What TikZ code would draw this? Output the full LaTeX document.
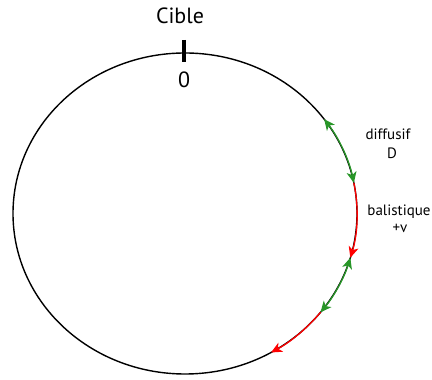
\documentclass[tikz,border=0pt]{standalone}
\usepackage{fontspec}
\setmainfont{PT Sans}
\usetikzlibrary{arrows.meta}
\definecolor{dgreen}{RGB}{40,150,40}
\definecolor{dred}{RGB}{255,0,0}
\tikzset{
  tip/.tip={Stealth[length=11pt,width=10pt,inset=3pt]},
  orbit/.style={line width=1.4pt, black},
  garc/.style={line width=1.3pt, dgreen, tip-tip},
  rarc/.style={line width=1.3pt, dred, -tip},
  lbl/.style={anchor=base, inner sep=0pt, font=\fontsize{15}{17}\selectfont},
  big/.style={anchor=base, inner sep=0pt, font=\fontsize{22}{25}\selectfont}
}
\begin{document}
\begin{tikzpicture}[x=1pt,y=1pt]
\useasboundingbox (0,0) rectangle (432,380);
\coordinate (O) at (185,166.5);
\draw[orbit] (O) ellipse [x radius=172, y radius=160.5];
\coordinate (tt) at (184,340);
\coordinate (tb) at (184,318);
\draw[line width=3.5pt] (tt) -- (tb);
\node[big] (cible) at (180,356) {Cible};
\node[big] (zero) at (184,292) {0};
\coordinate (a1) at ([shift={(O)}]36:172 and 160.5);
\coordinate (a2) at ([shift={(O)}]11:172 and 160.5);
\coordinate (a3) at ([shift={(O)}]-16:172 and 160.5);
\coordinate (a4) at ([shift={(O)}]-38:172 and 160.5);
\coordinate (a5) at ([shift={(O)}]-60:172 and 160.5);
\draw[garc] (a1) arc[start angle=36, end angle=11, x radius=172, y radius=160.5];
\draw[rarc] (a2) arc[start angle=11, end angle=-16, x radius=172, y radius=160.5];
\draw[garc] (a3) arc[start angle=-16, end angle=-38, x radius=172, y radius=160.5];
\draw[rarc] (a4) arc[start angle=-38, end angle=-60, x radius=172, y radius=160.5];
\node[lbl] (diff) at (388,240) {diffusif};
\node[lbl] (D) at (392,221) {D};
\node[lbl] (bal) at (399,164) {balistique};
\node[lbl] (v) at (400,147) {+v};
\end{tikzpicture}
\end{document}
